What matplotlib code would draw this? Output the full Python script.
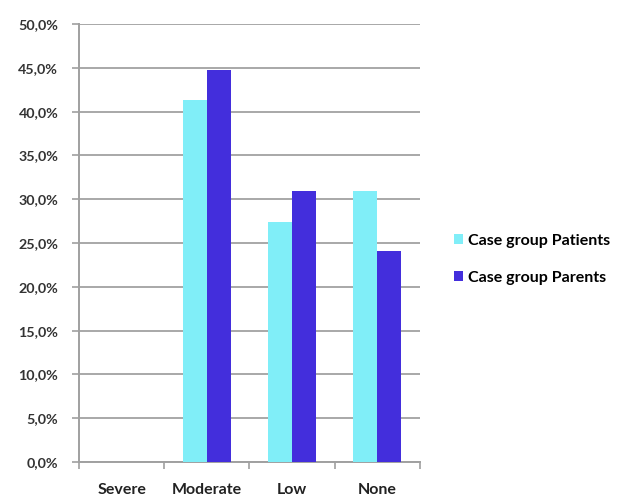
import matplotlib.pyplot as plt
import numpy as np
from matplotlib.ticker import FuncFormatter, MultipleLocator

categories = ["Severe", "Moderate", "Low", "None"]
patients = [0.0, 41.3, 27.4, 30.9]
parents = [0.0, 44.7, 30.9, 24.1]
series_names = ["Case group Patients", "Case group Parents"]


def main():
    plt.rcParams["font.family"] = ["Lato", "DejaVu Sans"]
    plt.rcParams["font.weight"] = "bold"

    fig = plt.figure(figsize=(6.19, 4.96), dpi=100)
    ax = fig.add_axes([0.1276, 0.0685, 0.5509, 0.8831])

    x = np.arange(len(categories))
    w = 0.28
    ax.bar(x - w / 2, patients, width=w, color="#80EEF8", label=series_names[0], zorder=3)
    ax.bar(x + w / 2, parents, width=w, color="#432EDC", label=series_names[1], zorder=3)

    ax.set_xlim(-0.5, len(categories) - 0.5)
    ax.set_ylim(0, 50)

    ax.yaxis.set_major_locator(MultipleLocator(5))
    ax.yaxis.set_major_formatter(
        FuncFormatter(lambda v, p: f"{v:.1f}%".replace(".", ","))
    )
    ax.grid(axis="y", color="#a8a8a8", lw=1.4, zorder=0)

    ax.set_xticks(x)
    ax.set_xticklabels(categories)
    ax.set_xticks(np.arange(-0.5, len(categories)), minor=True)
    ax.tick_params(axis="x", which="major", length=0, pad=15, labelsize=11.5, colors="#222222")
    ax.tick_params(axis="x", which="minor", length=5, color="#a0a0a0", width=1.2)
    ax.tick_params(axis="y", length=5, color="#a0a0a0", width=1.2, pad=10,
                   labelsize=10.3, labelcolor="#333333")

    for side in ["top", "right"]:
        ax.spines[side].set_visible(False)
    for side in ["left", "bottom"]:
        ax.spines[side].set_color("#a0a0a0")
        ax.spines[side].set_linewidth(1.4)

    fig.legend(
        loc="center left",
        bbox_to_anchor=(0.71, 0.477),
        frameon=False,
        handlelength=0.6,
        handleheight=0.6,
        handletextpad=0.3,
        labelspacing=1.45,
        fontsize=11.5,
    )

    fig.savefig("out.png", dpi=100)


if __name__ == "__main__":
    main()
